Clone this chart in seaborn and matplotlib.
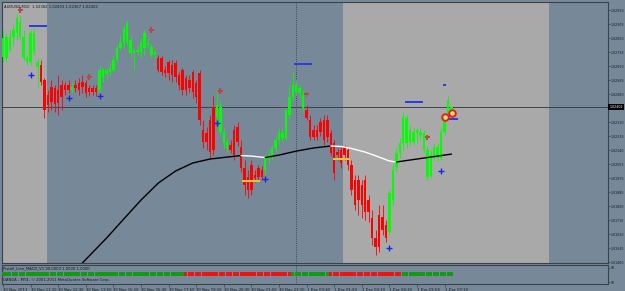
import matplotlib
matplotlib.use("Agg")
import matplotlib.pyplot as plt
import matplotlib.transforms as mtransforms
import numpy as np
import seaborn as sns

sns.set_theme(style="white")
plt.rcParams["font.family"] = ["DejaVu Sans"]

# ---------------- data (AUDUSD M10, 30 Nov 09:50 -> 1 Dec 07:30) ----------------
opens = [1.02706, 1.02700, 1.02748, 1.02827, 1.02852, 1.02827, 1.02700, 1.02676, 1.02676, 1.02736,
         1.02645, 1.02657, 1.02566, 1.02475, 1.02524, 1.02518, 1.02506, 1.02536, 1.02536, 1.02536,
         1.02506, 1.02536, 1.02548, 1.02554, 1.02548, 1.02518, 1.02518, 1.02518, 1.02506, 1.02585,
         1.02603, 1.02615, 1.02627, 1.02688, 1.02761, 1.02791, 1.02797, 1.02730, 1.02730, 1.02736,
         1.02736, 1.02761, 1.02779, 1.02718, 1.02724, 1.02700, 1.02700, 1.02627, 1.02676, 1.02657,
         1.02670, 1.02597, 1.02627, 1.02579, 1.02566, 1.02615, 1.02548, 1.02609, 1.02263, 1.02245,
         1.02324, 1.02403, 1.02342, 1.02251, 1.02184, 1.02154, 1.02172, 1.02263, 1.02281, 1.02160,
         1.02032, 1.01978, 1.02050, 1.01990, 1.02032, 1.02020, 1.02020, 1.02087, 1.02099, 1.02154,
         1.02202, 1.02214, 1.02214, 1.02354, 1.02463, 1.02494, 1.02487, 1.02396, 1.02384, 1.02324,
         1.02263, 1.02263, 1.02311, 1.02324, 1.02324, 1.02245, 1.02184, 1.02129, 1.02141, 1.02160,
         1.02141, 1.02050, 1.01959, 1.01959, 1.01929, 1.01959, 1.01838, 1.01729, 1.01607, 1.01747,
         1.01735, 1.01686, 1.01644, 1.01838, 1.02038, 1.02123, 1.02184, 1.02184, 1.02190, 1.02190,
         1.02245, 1.02233, 1.02141, 1.01978, 1.01984, 1.02099, 1.02093, 1.02093, 1.02251, 1.02366,
         1.02382]
highs = [1.02870, 1.02852, 1.02870, 1.02900, 1.02973, 1.02961, 1.02870, 1.02718, 1.02870, 1.02882,
         1.02700, 1.02688, 1.02579, 1.02506, 1.02566, 1.02536, 1.02597, 1.02566, 1.02554, 1.02566,
         1.02554, 1.02566, 1.02579, 1.02597, 1.02566, 1.02536, 1.02536, 1.02536, 1.02657, 1.02639,
         1.02639, 1.02676, 1.02718, 1.02779, 1.02840, 1.02900, 1.02931, 1.02840, 1.02761, 1.02779,
         1.02821, 1.02870, 1.02821, 1.02785, 1.02748, 1.02718, 1.02712, 1.02651, 1.02688, 1.02688,
         1.02688, 1.02615, 1.02639, 1.02597, 1.02597, 1.02627, 1.02566, 1.02627, 1.02324, 1.02281,
         1.02354, 1.02469, 1.02487, 1.02445, 1.02275, 1.02214, 1.02202, 1.02293, 1.02311, 1.02202,
         1.02081, 1.02020, 1.02081, 1.02020, 1.02050, 1.02044, 1.02111, 1.02141, 1.02172, 1.02226,
         1.02275, 1.02275, 1.02396, 1.02536, 1.02615, 1.02566, 1.02536, 1.02506, 1.02415, 1.02354,
         1.02293, 1.02293, 1.02336, 1.02354, 1.02354, 1.02263, 1.02202, 1.02154, 1.02166, 1.02172,
         1.02160, 1.02081, 1.01990, 1.01990, 1.01959, 1.01990, 1.01868, 1.01777, 1.01656, 1.01808,
         1.01808, 1.01717, 1.01899, 1.02050, 1.02154, 1.02214, 1.02372, 1.02354, 1.02293, 1.02275,
         1.02275, 1.02275, 1.02263, 1.02166, 1.02141, 1.02184, 1.02184, 1.02275, 1.02366, 1.02469,
         1.02403]
lows = [1.02676, 1.02676, 1.02736, 1.02779, 1.02809, 1.02809, 1.02688, 1.02657, 1.02657, 1.02718,
        1.02524, 1.02536, 1.02336, 1.02372, 1.02384, 1.02372, 1.02354, 1.02384, 1.02475, 1.02487,
        1.02487, 1.02494, 1.02475, 1.02487, 1.02463, 1.02469, 1.02475, 1.02469, 1.02487, 1.02554,
        1.02579, 1.02591, 1.02615, 1.02676, 1.02748, 1.02761, 1.02779, 1.02700, 1.02627, 1.02718,
        1.02700, 1.02718, 1.02761, 1.02700, 1.02700, 1.02615, 1.02597, 1.02585, 1.02566, 1.02554,
        1.02554, 1.02506, 1.02475, 1.02475, 1.02494, 1.02457, 1.02427, 1.02293, 1.02154, 1.02141,
        1.02093, 1.02111, 1.02324, 1.02233, 1.02154, 1.02129, 1.02123, 1.02081, 1.02166, 1.02008,
        1.01868, 1.01850, 1.01868, 1.01947, 1.01953, 1.01959, 1.01990, 1.02063, 1.02081, 1.02129,
        1.02184, 1.02190, 1.02202, 1.02336, 1.02445, 1.02475, 1.02457, 1.02372, 1.02324, 1.02202,
        1.02202, 1.02202, 1.02226, 1.02172, 1.02190, 1.02105, 1.01959, 1.02081, 1.02032, 1.02081,
        1.02020, 1.01868, 1.01777, 1.01747, 1.01729, 1.01717, 1.01704, 1.01565, 1.01504, 1.01522,
        1.01626, 1.01583, 1.01626, 1.01808, 1.02008, 1.02093, 1.02141, 1.02154, 1.02166, 1.02172,
        1.02184, 1.02202, 1.02123, 1.01959, 1.01972, 1.02081, 1.02075, 1.02081, 1.02233, 1.02348,
        1.02367]
closes = [1.02821, 1.02827, 1.02827, 1.02870, 1.02943, 1.02918, 1.02827, 1.02700, 1.02852, 1.02852,
          1.02676, 1.02554, 1.02384, 1.02415, 1.02433, 1.02421, 1.02427, 1.02463, 1.02506, 1.02506,
          1.02524, 1.02518, 1.02506, 1.02524, 1.02487, 1.02494, 1.02494, 1.02494, 1.02627, 1.02627,
          1.02627, 1.02639, 1.02688, 1.02761, 1.02791, 1.02882, 1.02912, 1.02809, 1.02748, 1.02748,
          1.02797, 1.02852, 1.02791, 1.02767, 1.02736, 1.02627, 1.02615, 1.02609, 1.02609, 1.02597,
          1.02585, 1.02536, 1.02506, 1.02506, 1.02518, 1.02494, 1.02463, 1.02324, 1.02190, 1.02190,
          1.02129, 1.02141, 1.02415, 1.02403, 1.02251, 1.02190, 1.02141, 1.02111, 1.02190, 1.02032,
          1.01929, 1.01899, 1.01899, 1.01972, 1.01978, 1.01978, 1.02093, 1.02105, 1.02154, 1.02202,
          1.02245, 1.02245, 1.02384, 1.02463, 1.02536, 1.02536, 1.02518, 1.02475, 1.02336, 1.02220,
          1.02220, 1.02220, 1.02251, 1.02202, 1.02220, 1.02123, 1.02002, 1.02111, 1.02063, 1.02111,
          1.02050, 1.01899, 1.01808, 1.01838, 1.01808, 1.01765, 1.01765, 1.01607, 1.01553, 1.01553,
          1.01656, 1.01607, 1.01880, 1.02020, 1.02123, 1.02184, 1.02342, 1.02336, 1.02263, 1.02251,
          1.02263, 1.02251, 1.02245, 1.02141, 1.02111, 1.02160, 1.02160, 1.02251, 1.02342, 1.02445,
          1.02402]

# moving average (vertices at bar indices)
ma_bars = [20, 23, 30, 35, 40, 45, 50, 55, 60, 65, 69, 72, 76, 80, 85, 90, 95, 98,
           101, 105, 109, 112, 114, 117, 121, 125, 130]
ma_values = [1.01389, 1.01456, 1.01607, 1.01723, 1.01838, 1.01941, 1.02014, 1.02063,
             1.02087, 1.02099, 1.02108, 1.02105, 1.02096, 1.02111, 1.02135, 1.02154,
             1.02166, 1.02163, 1.02151, 1.02129, 1.02099, 1.02075, 1.02069, 1.02078,
             1.02090, 1.02102, 1.02117]

# signal markers
sell_bars = [5, 25, 43, 63, 88, 123]
sell_prices = [1.02991, 1.02585, 1.02870, 1.02500, 1.02481, 1.02220]
buy_bars = [8, 19, 28, 62, 76, 112, 127]
buy_prices = [1.02597, 1.02457, 1.02469, 1.02305, 1.01966, 1.01547, 1.02014]
alert_bars = [128, 130]
alert_prices = [1.02342, 1.02366]

# short level lines: (from bar, to bar, price)
blue_levels = [(7.5, 12.8, 1.02894), (84.3, 89.6, 1.02664), (116.5, 121.7, 1.02433),
               (128.0, 131.9, 1.02330), (127.5, 128.4, 1.02536)]
yellow_levels = [(69.3, 74.5, 1.01953), (95.7, 100.6, 1.02087)]

# highlighted sessions (bar index spans) and day separator bar
session_spans = [(-1.0, 12.7), (98.5, 158.3)]
day_separator_bar = 85

# indicator sub-window state runs: (1 = green, 0 = red, number of bars)
macd_runs = [(1, 53), (0, 31), (1, 11), (0, 21), (1, 15)]

time_labels = ["30 Nov 2011", "30 Nov 11:10", "30 Nov 12:30", "30 Nov 13:50",
               "30 Nov 15:10", "30 Nov 16:30", "30 Nov 17:50", "30 Nov 19:10",
               "30 Nov 20:30", "30 Nov 21:50", "30 Nov 23:10", "1 Dec 00:30",
               "1 Dec 01:50", "1 Dec 03:10", "1 Dec 04:30", "1 Dec 05:50", "1 Dec 07:10"]
price_ticks = [1.02990, 1.02905, 1.02820, 1.02735, 1.02650, 1.02565, 1.02480,
               1.02310, 1.02225, 1.02140, 1.02055, 1.01970, 1.01885, 1.01800,
               1.01715, 1.01630, 1.01545, 1.01460]

title_text = "AUDUSD,M10  1.02382 1.02403 1.02367 1.02402"
indicator_text = "Pistoll_Line_MACD_V1 90.0000 1.0000 1.0000"
copyright_text = "OANDA - MT4, \u00a9 2001-2011 MetaQuotes Software Corp."

# ---------------- styling ----------------
W, H = 625, 291
BG = "#778899"
LIGHT = "#a9a9aa"
FRAME = "#3a424b"
BULL = "#00ff00"
BEAR = "#ff0000"
TXT = "#161a1e"
FS = 2.7
FS_AX = 2.35

fig = plt.figure(figsize=(W / 100, H / 100), dpi=100, facecolor=BG)
ax = fig.add_axes([2 / W, 1 - 263 / H, 606 / W, 261 / H], facecolor=BG)
axs = fig.add_axes([2 / W, 1 - 284 / H, 606 / W, 19 / H], facecolor=BG)

xlim = (-0.29, 175.36)
ax.set_xlim(*xlim)
axs.set_xlim(*xlim)
ax.set_ylim(1.01456, 1.03040)
axs.set_ylim(-1.4, 107)

for a, b in session_spans:
    ax.axvspan(a, b, color=LIGHT, lw=0, zorder=0)

for a_ in (ax, axs):
    a_.axvline(day_separator_bar, color="#2c333b", lw=0.6, ls=(0, (1, 1.6)), zorder=1)

ax.axhline(closes[-1], color="#3b434c", lw=0.7, zorder=2)

# candles
o = np.array(opens); c = np.array(closes)
hi = np.array(highs); lo = np.array(lows)
x = np.arange(len(o))
cols = np.where(c >= o, BULL, BEAR)
ax.vlines(x, lo, hi, colors=cols, linewidth=0.6, zorder=3)
body_lo = np.minimum(o, c)
body_h = np.maximum(np.abs(c - o), 0.00003)
ax.bar(x, body_h, bottom=body_lo, width=0.72, color=cols, linewidth=0, zorder=4)

# moving average, white where falling
ma_x = np.array(ma_bars); ma_y = np.array(ma_values)
falling = np.diff(ma_y) < 0
start = 0
for k in range(1, len(falling) + 1):
    if k == len(falling) or falling[k] != falling[start]:
        seg = slice(start, k + 1)
        sns.lineplot(x=ma_x[seg], y=ma_y[seg], ax=ax, sort=False, estimator=None,
                     color="white" if falling[start] else "black", linewidth=1.0, zorder=5)
        start = k

# level lines
for a, b, p in blue_levels:
    ax.hlines(p, a, b, color="#2a3ce0", lw=1.4, zorder=6)
for a, b, p in yellow_levels:
    ax.hlines(p, a, b, color="#e8c828", lw=1.4, zorder=6)

# markers
sns.scatterplot(x=sell_bars, y=sell_prices, ax=ax, marker="P", s=14, color="#b84848",
                edgecolor="none", linewidth=0, zorder=7)
sns.scatterplot(x=buy_bars, y=buy_prices, ax=ax, marker="+", s=14, color="#1428e6",
                linewidth=1.0, zorder=7)
sns.scatterplot(x=alert_bars, y=alert_prices, ax=ax, marker="o", s=22, color="#f0e070",
                edgecolor="#e02020", linewidth=1.4, zorder=8)

# texts
ax.text(0.004, 0.988, title_text, transform=ax.transAxes, fontsize=FS, color=TXT,
        va="top", ha="left", zorder=9)
trans = mtransforms.blended_transform_factory(ax.transAxes, ax.transData)
ax.text(1.002, closes[-1], f"{closes[-1]:.5f}", transform=trans, fontsize=FS_AX, color="white",
        va="center", ha="left", clip_on=False, zorder=10,
        bbox=dict(boxstyle="square,pad=0.25", fc="black", ec="none"))

# sub window
state = []
for s, n in macd_runs:
    state += [s] * n
state = np.array(state)
sub_cols = np.where(state == 1, "#129a12", "#ee1414")
axs.bar(np.arange(len(state)), 22, bottom=45, width=0.9, color=sub_cols, linewidth=0, zorder=3)
axs.text(0.002, 0.83, indicator_text, transform=axs.transAxes, fontsize=FS, color=TXT,
         va="center", ha="left")
axs.text(0.002, 0.2, copyright_text, transform=axs.transAxes, fontsize=FS, color=TXT,
         va="center", ha="left")

# axes decoration
for a_ in (ax, axs):
    for sp in a_.spines.values():
        sp.set_color(FRAME)
        sp.set_linewidth(0.8)
    a_.grid(False)
    a_.yaxis.tick_right()

ax.set_yticks(price_ticks)
ax.set_yticklabels([f"{p:.5f}" for p in price_ticks])
ax.tick_params(axis="y", which="both", right=True, left=False, length=1.2, width=0.5,
               pad=0.6, labelsize=FS_AX, labelcolor=TXT, color=FRAME)
ax.tick_params(axis="x", bottom=False, labelbottom=False)

axs.set_yticks([10, 90])
axs.set_yticklabels(["10", "90"])
axs.tick_params(axis="y", right=True, left=False, length=1.2, width=0.5, pad=0.6,
                labelsize=FS_AX, labelcolor=TXT, color=FRAME)
tick_bars = np.arange(0, 8 * len(time_labels), 8)
axs.set_xticks(tick_bars)
axs.set_xticklabels(time_labels, ha="left")
axs.tick_params(axis="x", bottom=True, length=2.0, width=0.5, pad=0.8, labelsize=FS,
                labelcolor=TXT, color=FRAME)
ax.set_xlabel(""); ax.set_ylabel("")
axs.set_xlabel(""); axs.set_ylabel("")

fig.savefig("out.png", dpi=100, facecolor=BG)
